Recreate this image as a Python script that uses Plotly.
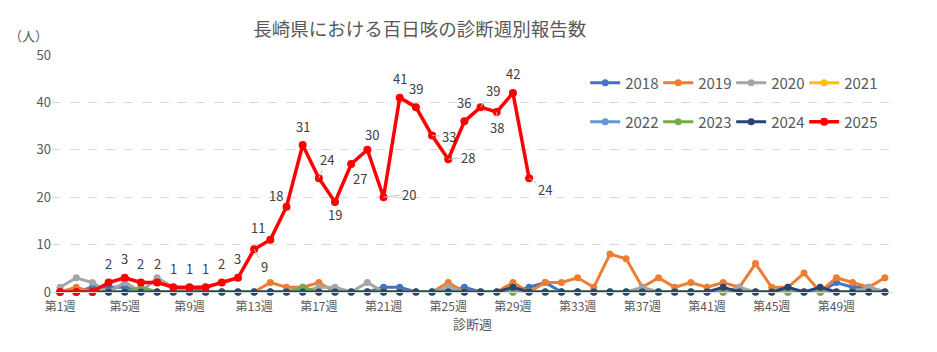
import plotly.graph_objects as go

# ---------------- data ----------------
weeks = list(range(1, 53))
tick_weeks = [1, 5, 9, 13, 17, 21, 25, 29, 33, 37, 41, 45, 49]
tick_labels = [f"第{w}週" for w in tick_weeks]

years = ["2018", "2019", "2020", "2021", "2022", "2023", "2024", "2025"]

v2018 = [0, 0, 1, 1, 1, 0, 0, 0, 1, 0,
         0, 0, 0, 0, 0, 0, 0, 0, 0, 0,
         1, 1, 0, 0, 0, 1, 0, 0, 0, 1,
         2, 0, 0, 0, 0, 0, 0, 0, 0, 0,
         0, 0, 0, 0, 0, 0, 0, 0, 2, 1,
         1, 0]
v2019 = [0, 1, 0, 0, 2, 0, 0, 0, 0, 0,
         0, 0, 0, 2, 1, 1, 2, 0, 0, 0,
         0, 0, 0, 0, 2, 0, 0, 0, 2, 0,
         2, 2, 3, 1, 8, 7, 1, 3, 1, 2,
         1, 2, 1, 6, 1, 1, 4, 0, 3, 2,
         1, 3]
v2020 = [1, 3, 2, 0, 2, 0, 3, 1, 0, 0,
         0, 0, 0, 0, 0, 0, 1, 1, 0, 2,
         0, 0, 0, 0, 1, 0, 0, 0, 0, 0,
         0, 0, 0, 0, 0, 0, 1, 0, 0, 0,
         0, 0, 1, 0, 0, 0, 0, 0, 0, 0,
         1, 0]
v2021 = [0] * 52
v2022 = [0] * 52
v2023 = [0, 0, 0, 0, 0, 1, 0, 0, 0, 0,
         0, 0, 0, 0, 0, 1, 0, 0, 0, 0,
         0, 0, 0, 0, 0, 0, 0, 0, 0, 0,
         0, 0, 0, 0, 0, 0, 0, 0, 0, 0,
         0, 0, 0, 0, 0, 0, 0, 0, 0, 0,
         0, 0]
v2024 = [0, 0, 0, 0, 0, 0, 0, 0, 0, 0,
         0, 0, 0, 0, 0, 0, 0, 0, 0, 0,
         0, 0, 0, 0, 0, 0, 0, 0, 1, 0,
         0, 0, 0, 0, 0, 0, 0, 0, 0, 0,
         0, 1, 0, 0, 0, 1, 0, 1, 0, 0,
         0, 0]
v2025 = [0, 0, 0, 2, 3, 2, 2, 1, 1, 1,
         2, 3, 9, 11, 18, 31, 24, 19, 27, 30,
         20, 41, 39, 33, 28, 36, 39, 38, 42, 24]

series = [v2018, v2019, v2020, v2021, v2022, v2023, v2024, v2025]

# ---------------- styles ----------------
colors = ["#4472C4", "#ED7D31", "#A5A5A5", "#FFC000",
          "#5B9BD5", "#70AD47", "#264478", "#FF0000"]
FONT = "Noto Sans CJK JP"
TXT = "#595959"

# label offsets (pixels) for 2025 data labels: week -> (dx, dy, leader)
label_offsets = {
    13: (10, -17, True), 14: (-12, 12, False), 15: (-11, 11, False),
    17: (8, 19, True), 18: (0, -13, False), 19: (9, -14, False),
    20: (5, 15, False), 21: (25, 3, True), 24: (17, -1, True),
    25: (20, 2, True), 27: (12, 17, True), 28: (0, -16, True),
    30: (16, -11, True),
}
default_dy = 19

fig = go.Figure()
for i, (yr, vals) in enumerate(zip(years, series)):
    is25 = yr == "2025"
    fig.add_trace(go.Scatter(
        x=weeks[:len(vals)], y=vals, name=yr, mode="lines+markers",
        line=dict(color=colors[i], width=3.5 if is25 else 3),
        marker=dict(color=colors[i], size=8 if is25 else 7),
        cliponaxis=False,
        legend="legend" if i < 4 else "legend2",
    ))

annotations = []
for w, v in zip(weeks, v2025):
    if v <= 0:
        continue
    dx, dy, leader = label_offsets.get(w, (0, default_dy, False))
    if leader:
        annotations.append(dict(
            x=w, y=v, xref="x", yref="y", text=str(v), showarrow=True,
            ax=dx, ay=-dy, arrowhead=0, arrowwidth=1, arrowcolor="#BFBFBF",
            standoff=0, font=dict(family=FONT, size=13, color="#404040"),
        ))
    else:
        annotations.append(dict(
            x=w, y=v, xref="x", yref="y", text=str(v), showarrow=False,
            xshift=dx, yshift=dy,
            font=dict(family=FONT, size=13, color="#404040"),
        ))

annotations.append(dict(
    text="（人）", xref="paper", yref="paper", x=-0.053, y=1.084,
    xanchor="left", yanchor="middle", showarrow=False,
    font=dict(family=FONT, size=13, color=TXT),
))

fig.update_layout(
    width=937, height=352,
    margin=dict(l=52, r=44, t=55, b=60, autoexpand=False),
    paper_bgcolor="white", plot_bgcolor="white",
    font=dict(family=FONT, color=TXT, size=12),
    title=dict(text="長崎県における百日咳の診断週別報告数",
               x=0.448, xanchor="center", xref="container",
               y=1 - 30 / 352, yanchor="middle", yref="container",
               font=dict(family=FONT, size=18.5, color=TXT)),
    showlegend=True,
    legend=dict(orientation="h", x=0.634, xanchor="left",
                y=0.882, yanchor="middle", bgcolor="rgba(0,0,0,0)",
                entrywidth=28, entrywidthmode="pixels",
                font=dict(family=FONT, size=15, color=TXT)),
    legend2=dict(orientation="h", x=0.634, xanchor="left",
                 y=0.717, yanchor="middle", bgcolor="rgba(0,0,0,0)",
                 entrywidth=28, entrywidthmode="pixels",
                 font=dict(family=FONT, size=15, color=TXT)),
    xaxis=dict(range=[0.5, 52.5], tickvals=tick_weeks, ticktext=tick_labels,
               showgrid=False, zeroline=False, showline=True,
               linecolor="#D9D9D9", linewidth=1, ticks="",
               ticklabelstandoff=4,
               tickfont=dict(family=FONT, size=12, color=TXT),
               title=dict(text="診断週", standoff=6,
                          font=dict(family=FONT, size=13, color=TXT))),
    yaxis=dict(range=[0, 50], dtick=10, showgrid=True,
               gridcolor="#D9D9D9", griddash="dash", gridwidth=1,
               zeroline=False, showline=False, ticks="",
               tickfont=dict(family=FONT, size=13, color=TXT)),
    annotations=annotations,
)

fig.write_html("out.html")
